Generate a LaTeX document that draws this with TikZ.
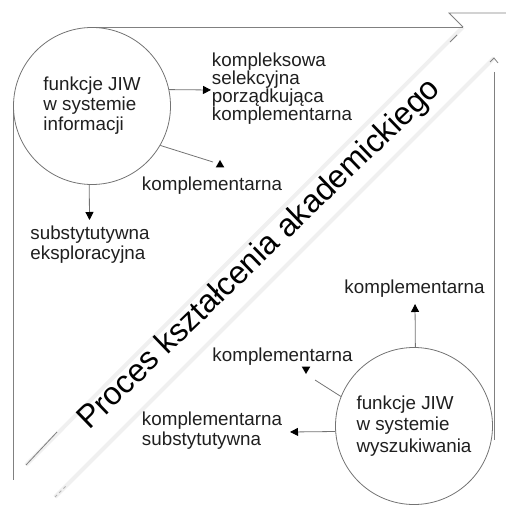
\documentclass[tikz,border=0pt]{standalone}
\usepackage{fontspec}
\setmainfont{Liberation Sans}
\usetikzlibrary{arrows.meta,shapes.geometric}
\begin{document}
\begin{tikzpicture}[x=1bp,y=-1bp,
  txt/.style={font=\fontsize{18.8bp}{20bp}\selectfont, text=black!88, align=left, inner sep=0pt},
  ring/.style={circle, draw=black!55, line width=0.8bp, minimum size=157bp, inner sep=0pt,
    font=\fontsize{18.8bp}{20bp}\selectfont, text=black!88, align=left},
  link/.style={draw=black!55, line width=0.8bp},
  conn/.style={link, -{Triangle[length=8bp,width=8bp,color=black]}},
  pointer/.style={regular polygon, regular polygon sides=3, fill=black, inner sep=0pt, minimum size=10bp},
  frame/.style={draw=black!50, line width=0.8bp},
  ghost/.style={draw=black!6, line width=4bp},
]
\useasboundingbox (0,0) rectangle (506,508);

% the wide diagonal arrow: faint edges, with the parts that stay visible
\draw[ghost] (26,465) -- (463,27);
\draw[ghost] (55,497) -- (494,58);
\draw[frame] (26,465) -- (57,432);
\draw[frame] (450,42) -- (457,35);
\draw[frame, draw=black!30, dashed] (55,497) -- (67,485);
\draw[frame] (463,27) -- (449,13) -- (506,13);
\draw[frame] (490,62) -- (494,58) -- (498,63);

% frame lines
\draw[frame] (92,27) -- (463,27);
\draw[frame] (13,106) -- (13,480);
\draw[frame] (494,72) -- (494,440);

% process label along the diagonal
\node[rotate=44, font=\fontsize{32bp}{32bp}\selectfont, text=black, inner sep=0pt]
  (proc) at (260,255) {Proces kształcenia akademickiego};

% information system
\node[ring] (c1) at (92,106) {funkcje JIW\\w systemie\\informacji};
\node[txt, font=\fontsize{18.8bp}{18bp}\selectfont] (f1) at (282,89)
  {kompleksowa\\selekcyjna\\porządkująca\\komplementarna};
\node[txt] (f2) at (212,186) {komplementarna};
\node[txt] (f3) at (90,245) {substytutywna\\eksploracyjna};
\coordinate (p2) at (213,162);
\draw[conn] (c1.12) -- (211,90);
\draw[link] (c1.-30) -- (p2);
\node[pointer] (t2) at (220,165) {};
\draw[conn] (c1.-92) -- (89.5,220);

% retrieval system
\node[ring, font=\fontsize{18.8bp}{21.5bp}\selectfont] (c2) at (414,426)
  {funkcje JIW\\w systemie\\wyszukiwania};
\node[txt] (g1) at (414.5,289) {komplementarna};
\node[txt] (g2) at (282.5,357) {komplementarna};
\node[txt] (g3) at (212,431) {komplementarna\\substytutywna};
\coordinate (q2) at (315,380);
\draw[conn] (c2.89) -- (415,304);
\draw[link] (c2.158) -- (q2);
\node[pointer, shape border rotate=180] (u2) at (306,369) {};
\draw[conn] (c2.184) -- (290,432);
\end{tikzpicture}
\end{document}
